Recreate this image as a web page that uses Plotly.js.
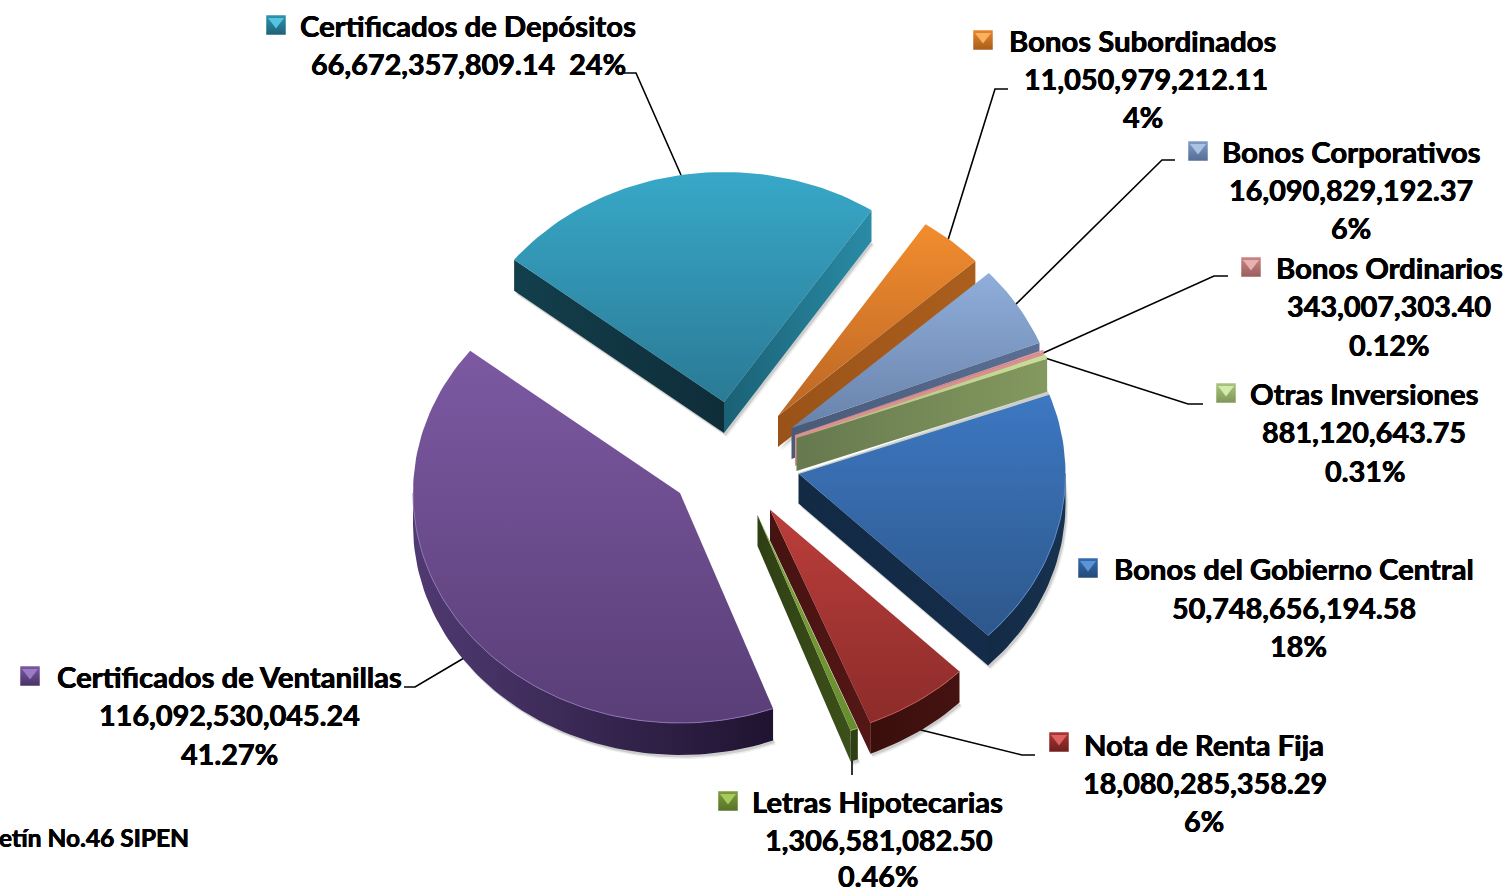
<!DOCTYPE html>
<html>
<head>
<meta charset="utf-8">
<script src="https://cdn.plot.ly/plotly-3.0.1.min.js"></script>
<style>html,body{margin:0;padding:0;background:#fff;overflow:hidden}#chart{width:1508px;height:895px}</style>
</head>
<body>
<div id="chart"></div>
<script>
// ---- data, clockwise from the Certificados de Ventanillas slice ----
var categories = ["Certificados de Ventanillas","Certificados de Depósitos","Bonos Subordinados","Bonos Corporativos","Bonos Ordinarios","Otras Inversiones","Bonos del Gobierno Central","Nota de Renta Fija","Letras Hipotecarias"];
var values = [116092530045.24,66672357809.14,11050979212.11,16090829192.37,343007303.40,881120643.75,50748656194.58,18080285358.29,1306581082.50];
var amountLabels = ["116,092,530,045.24","66,672,357,809.14\u00a0\u00a024%","11,050,979,212.11","16,090,829,192.37","343,007,303.40","881,120,643.75","50,748,656,194.58","18,080,285,358.29","1,306,581,082.50"];
var percentLabels = ["41.27%","","4%","6%","0.12%","0.31%","18%","6%","0.46%"];
var footnote = "etín No.46 SIPEN";

// ---- pie geometry (axis units are page pixels) ----
var startAngle = 159.6, rx = 267, ry = 230;
var depths = [32,31,31,31,31,33,30,31,31];
var explodeX = [680,724,778,791.5,795,796.5,798.5,770,757.5];
var explodeY = [493,402,416,428,435,438,473.5,509.5,515];
var paintOrder = [1,2,3,4,5,6,8,7,0];

// ---- styles ----
var topLight = ["#7c59a2","#38a8c8","#f28c2e","#90aedb","#e09a98","#c8e09a","#3d78c2","#bb3e3b","#82a83c"];
var topDark  = ["#593e77","#2a7a95","#bb6725","#6883ab","#d08a88","#a8c478","#2d578b","#8c2c2a","#668c2e"];
var endWallL = ["#2a1c3c","#1a6175","#9a5218","#4a5a78","#d89090","#66794f","#132a45","#451311","#2f3f14"];
var endWallR = ["#2a1c3c","#2a8ba6","#ab5f1d","#5a6f93","#d89090","#84995f","#142c49","#551715","#3c501a"];
var startWallL = "#133f4c", startWallR = "#0e2d39";
var arcL     = ["#503a72","#000","#000","#000","#000","#000","#132a45","#3a0e0b","#2f3f14"];
var arcR     = ["#1f1330","#000","#000","#000","#000","#000","#17324f","#451311","#2f3f14"];
var rimLine  = ["#8d72b3","#000","#000","#000","#000","#000","#5a8ac8","#c05a58","#9abb5a"];
var gobSeam  = "#c9d2c4";

// ---- label placement ----
var nameX = [229,467.5,1142.5,1351,1389,1364.5,1294,1204,877.5];
var nameY = [677,26,41,152,268,394,569,745,802];
var amountX = [229,468,1145.5,1351,1389,1364,1294,1204.5,878];
var amountY = [716,65,80,191,307,433,609,784,841];
var percentX = [229,0,1143,1351,1389,1365,1298,1204,878];
var percentY = [755,0,118,229,346,472,647,822,877];
var swatchX = [30,276,983,1198,1251,1226,1088,1059,728];
var swatchY = [676,25,40,151,267,393,568,742,801];
var swatchMid = ["#7c59a2","#2f93ae","#e8842a","#7f9bc6","#c98583","#a9c47e","#356cb0","#a93633","#7b9c38"];
var swatchLight = ["#9a7cc0","#55c4de","#f9b060","#aac2e4","#e8b0ae","#d4e8aa","#5c94d8","#dc6460","#a8c860"];
var swatchDark = ["#4a3268","#1d6277","#a85e1c","#566d94","#9a5f5d","#7f9858","#234a78","#6f1f1d","#56722a"];
var leaderX = [[404,415,464],[624,636,681],[1008,995,948],[1175,1162,1013],[1228,1214,1041],[1203,1188,1042],null,[1035,1022,917],[852,852]];
var leaderY = [[687,687,658],[73,73,175],[89,89,240],[160,160,307],[276,276,354],[404,404,357],null,[755,755,729],[758,775]];

var total = values.reduce(function(a,b){return a+b;},0);
var spans = values.map(function(v){return v/total*360;});
var traces = [];
function pt(i,a,dy){var r=a*Math.PI/180;return [explodeX[i]+rx*Math.sin(r),explodeY[i]-ry*Math.cos(r)+(dy||0)];}
function poly(pts,from,to,orient){
  var xs=pts.map(function(p){return p[0];}),ys=pts.map(function(p){return p[1];});
  xs.push(xs[0]);ys.push(ys[0]);
  var t={type:"scatter",mode:"lines",x:xs,y:ys,fill:"toself",hoverinfo:"skip",showlegend:false,line:{width:0,color:from}};
  if(from===to){t.fillcolor=from;}else{t.fillgradient={type:orient,colorscale:[[0,from],[1,to]]};t.fillcolor=from;}
  traces.push(t);
}
function stroke(pts,color,width){
  traces.push({type:"scatter",mode:"lines",x:pts.map(function(p){return p[0];}),y:pts.map(function(p){return p[1];}),hoverinfo:"skip",showlegend:false,line:{color:color,width:width}});
}
function arc(i,a0,a1,dy){var out=[],n=Math.max(2,Math.ceil((a1-a0)/1.5));for(var k=0;k<=n;k++){out.push(pt(i,a0+(a1-a0)*k/n,dy));}return out;}
var starts=[],acc=startAngle;
spans.forEach(function(s){starts.push(acc%360);acc+=s;});

// soft drop shadow
paintOrder.forEach(function(i){
  var a0=starts[i],a1=a0+spans[i];
  [[4,"rgba(90,90,90,0.10)"],[2.5,"rgba(90,90,90,0.22)"]].forEach(function(s){
    var pts=[[explodeX[i],explodeY[i]]].concat(arc(i,a0,a1,0));
    pts=pts.map(function(p){return [p[0]+s[0]*0.7,p[1]+depths[i]+s[0]];});
    poly(pts,s[1],s[1],"none");
  });
});
// leaders sit behind the pie
leaderX.forEach(function(xs,i){
  if(!xs)return;
  stroke(xs.map(function(x,k){return [x,leaderY[i][k]];}),"#000",1.6);
});
// slices
paintOrder.forEach(function(i){
  var a0=starts[i],a1=a0+spans[i],d=depths[i];
  var ap=[explodeX[i],explodeY[i]],apB=[ap[0],ap[1]+d];
  var norm=function(a){return ((a%360)+360)%360;};
  if(norm(a0)>180){var p=pt(i,a0,0);poly([ap,p,[p[0],p[1]+d],apB],startWallL,startWallR,"horizontal");}
  if(norm(a1)<180){var q=pt(i,a1,0);poly([ap,q,[q[0],q[1]+d],apB],endWallL[i],endWallR[i],"horizontal");}
  var lo=Math.max(a0,90),hi=Math.min(a1,270);
  if(hi>lo){
    var ta=arc(i,lo,hi,0),ba=arc(i,lo,hi,d).reverse();
    poly(ta.concat(ba),arcL[i],arcR[i],"horizontal");
  }
  poly([ap].concat(arc(i,a0,a1,0)),topDark[i],topLight[i],"vertical");
  if(hi>lo){stroke(arc(i,lo,hi,0),rimLine[i],1);}
  if(categories[i]==="Bonos del Gobierno Central"){stroke([ap,pt(i,a0,0)],gobSeam,1.2);}
});
// swatches
categories.forEach(function(c,i){
  traces.push({type:"scatter",mode:"markers",x:[swatchX[i]],y:[swatchY[i]],hoverinfo:"skip",showlegend:false,
    marker:{symbol:"square",size:19.5,color:swatchMid[i],gradient:{type:"vertical",color:swatchDark[i]},line:{width:0}}});
  traces.push({type:"scatter",mode:"markers",x:[swatchX[i]],y:[swatchY[i]-3.5],hoverinfo:"skip",showlegend:false,
    marker:{symbol:"triangle-down",size:14,color:swatchLight[i],line:{width:0}}});
});

var annotations=[];
var thick="0.35px 0 0 #000, -0.35px 0 0 #000";
var fontName={family:"Lato, Carlito, sans-serif",size:29.3,color:"#000",weight:700,shadow:thick};
var fontNum={family:"Lato, Carlito, sans-serif",size:28.8,color:"#000",weight:700,shadow:thick};
function label(t,x,y,f,anchor){
  annotations.push({xref:"x",yref:"y",x:x,y:y,text:"<b>"+t+"</b>",showarrow:false,xanchor:anchor||"center",yanchor:"middle",font:f,borderpad:0,captureevents:false});
}
categories.forEach(function(c,i){
  label(c,nameX[i],nameY[i]-1,fontName);
  label(amountLabels[i],amountX[i],amountY[i]-1,fontNum);
  if(percentLabels[i])label(percentLabels[i],percentX[i],percentY[i]-1,fontNum);
});
label(footnote,190,837,{family:fontName.family,size:24.5,color:"#000",weight:700,shadow:thick},"right");

Plotly.newPlot("chart",traces,{
  width:1508,height:895,margin:{l:0,r:0,t:0,b:0},paper_bgcolor:"#fff",plot_bgcolor:"#fff",showlegend:false,
  xaxis:{range:[0,1508],visible:false,fixedrange:true},
  yaxis:{range:[895,0],visible:false,fixedrange:true},
  annotations:annotations
},{staticPlot:true,displayModeBar:false});
</script>
</body>
</html>
